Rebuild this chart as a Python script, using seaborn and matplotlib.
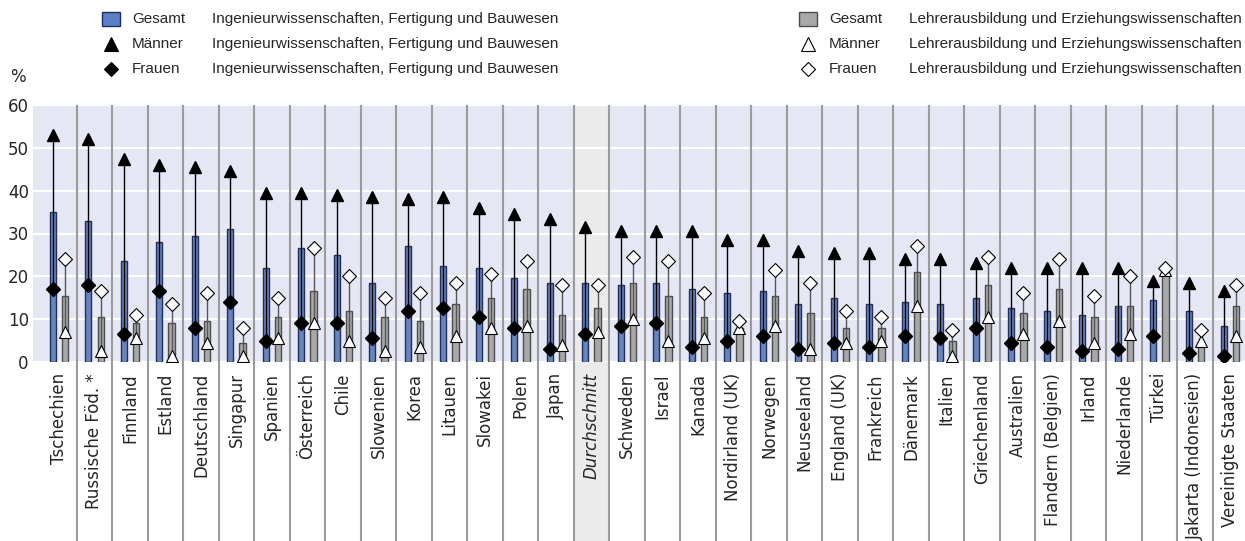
import numpy as np
import pandas as pd
import matplotlib
matplotlib.use("Agg")
import matplotlib.pyplot as plt
import seaborn as sns
from matplotlib.transforms import blended_transform_factory
from matplotlib.patches import Rectangle

# ==========================================
# DATEN
# ==========================================
laender = ["Tschechien", "Russische Föd. *", "Finnland", "Estland", "Deutschland",
           "Singapur", "Spanien", "Österreich", "Chile", "Slowenien", "Korea",
           "Litauen", "Slowakei", "Polen", "Japan", "Durchschnitt", "Schweden",
           "Israel", "Kanada", "Nordirland (UK)", "Norwegen", "Neuseeland",
           "England (UK)", "Frankreich", "Dänemark", "Italien", "Griechenland",
           "Australien", "Flandern (Belgien)", "Irland", "Niederlande", "Türkei",
           "Jakarta (Indonesien)", "Vereinigte Staaten"]

ing_gesamt = [35, 33, 23.5, 28, 29.5, 31, 22, 26.5, 25, 18.5, 27, 22.5, 22, 19.5, 18.5,
              18.5, 18, 18.5, 17, 16, 16.5, 13.5, 15, 13.5, 14, 13.5, 15, 12.5, 12, 11,
              13, 14.5, 12, 8.5]
ing_maenner = [53, 52, 47.5, 46, 45.5, 44.5, 39.5, 39.5, 39, 38.5, 38, 38.5, 36, 34.5, 33.5,
               31.5, 30.5, 30.5, 30.5, 28.5, 28.5, 26, 25.5, 25.5, 24, 24, 23, 22, 22, 22,
               22, 19, 18.5, 16.5]
ing_frauen = [17, 18, 6.5, 16.5, 8, 14, 5, 9, 9, 5.5, 12, 12.5, 10.5, 8, 3,
              6.5, 8.5, 9, 3.5, 5, 6, 3, 4.5, 3.5, 6, 5.5, 8, 4.5, 3.5, 2.5,
              3, 6, 2, 1.5]

lehr_gesamt = [15.5, 10.5, 9, 9, 9.5, 4.5, 10.5, 16.5, 12, 10.5, 9.5, 13.5, 15, 17, 11,
               12.5, 18.5, 15.5, 10.5, 8, 15.5, 11.5, 8, 8, 21, 5, 18, 11.5, 17, 10.5,
               13, 20.5, 4, 13]
lehr_maenner = [7, 2.5, 5.5, 1.5, 4.5, 1.5, 5.5, 9, 5, 2.5, 3.5, 6, 8, 8.5, 4,
                7, 10, 5, 5.5, 8, 8.5, 3, 4.5, 5, 13, 1.5, 10.5, 6.5, 9.5, 4.5,
                6.5, 21.5, 5, 6]
lehr_frauen = [24, 16.5, 11, 13.5, 16, 8, 15, 26.5, 20, 15, 16, 18.5, 20.5, 23.5, 18,
               18, 24.5, 23.5, 16, 9.5, 21.5, 18.5, 12, 10.5, 27, 7.5, 24.5, 16, 24, 15.5,
               20, 22, 7.5, 18]

BLAU = "#5b7fc9"
BLAU_RAND = "#1d2f5c"
GRAU = "#a8a8a8"
GRAU_RAND = "#4d4d4d"

n = len(laender)
df = pd.DataFrame({
    "Land": laender * 2,
    "Bereich": ["Ing"] * n + ["Lehr"] * n,
    "Wert": ing_gesamt + lehr_gesamt,
})

sns.set_style("darkgrid", {"axes.facecolor": "#e6e7f5", "grid.color": "white"})
plt.rcParams["font.family"] = ["DejaVu Sans"]

fig = plt.figure(figsize=(12.45, 5.41), dpi=100)
ax = fig.add_axes([33 / 1245, 179 / 541, 1212 / 1245, 257 / 541])

sns.barplot(data=df, x="Land", y="Wert", hue="Bereich",
            palette={"Ing": BLAU, "Lehr": GRAU}, width=0.68, gap=0.5,
            linewidth=1, legend=False, ax=ax, zorder=2)
for cont, rand in zip(ax.containers, [BLAU_RAND, GRAU_RAND]):
    for b in cont:
        b.set_edgecolor(rand)

pos = np.arange(n)
x_ing = pos - 0.17
x_lehr = pos + 0.17

# Verbindungslinien Männer/Frauen
ax.vlines(x_ing, np.minimum(ing_maenner, ing_frauen), np.maximum(ing_maenner, ing_frauen),
          color="black", lw=1, zorder=3)
ax.vlines(x_lehr, np.minimum(lehr_maenner, lehr_frauen), np.maximum(lehr_maenner, lehr_frauen),
          color="#555555", lw=1, zorder=3)

ax.plot(x_ing, ing_maenner, ls="none", marker="^", ms=9, color="black", zorder=4)
ax.plot(x_ing, ing_frauen, ls="none", marker="D", ms=7, color="black", zorder=4)
ax.plot(x_lehr, lehr_maenner, ls="none", marker="^", ms=9, mfc="white", mec="black", mew=0.8, zorder=5)
ax.plot(x_lehr, lehr_frauen, ls="none", marker="D", ms=7, mfc="white", mec="black", mew=0.8, zorder=5)

# Trennlinien und Durchschnitt-Spalte
trans = blended_transform_factory(ax.transData, ax.transAxes)
unten = -179 / 257
ax.vlines(pos[:-1] + 0.5, unten, 1, transform=trans, colors="#9b9b9b", lw=1.5,
          clip_on=False, zorder=1)
i_avg = laender.index("Durchschnitt")
ax.add_patch(Rectangle((i_avg - 0.5, unten), 1, 1 - unten, transform=trans,
                       facecolor="#ebebeb", edgecolor="none", clip_on=False, zorder=0.2))

ax.set_xlim(-0.732, 33.41)
ax.set_ylim(0, 60)
ax.set_yticks(range(0, 61, 10))
ax.xaxis.grid(False)
ax.yaxis.grid(True, color="white", lw=1.5)
ax.set_axisbelow(True)
ax.set_xlabel("")
ax.set_ylabel("")
ax.set_xticks(pos)
ax.set_xticklabels(laender, rotation=90, va="top", ha="center", fontsize=12)
ax.get_xticklabels()[i_avg].set_style("italic")
ax.tick_params(axis="x", length=0, pad=8)
ax.tick_params(axis="y", length=0, pad=3, labelsize=12)
for s in ax.spines.values():
    s.set_visible(False)

fig.text(10 / 1245, 1 - 77 / 541, "%", fontsize=12, va="center")

# Legende
lax = fig.add_axes([0, 0, 1, 1], facecolor="none")
lax.set_xlim(0, 1245)
lax.set_ylim(541, 0)
lax.axis("off")
zeilen = [19, 44, 69]
for x0, feld, farbe, rand, mfc in [
        (111, "Ingenieurwissenschaften, Fertigung und Bauwesen", BLAU, BLAU_RAND, "black"),
        (808, "Lehrerausbildung und Erziehungswissenschaften", GRAU, GRAU_RAND, "white")]:
    lax.add_patch(Rectangle((x0 - 9, zeilen[0] - 7), 18, 14, facecolor=farbe, edgecolor=rand, lw=1))
    lax.plot(x0, zeilen[1], marker="^", ms=10, mfc=mfc, mec="black", mew=0.8)
    lax.plot(x0, zeilen[2], marker="D", ms=7.5, mfc=mfc, mec="black", mew=0.8)
    for y, wer in zip(zeilen, ["Gesamt", "Männer", "Frauen"]):
        lax.text(x0 + 21, y, wer, fontsize=11, va="center", family="Liberation Sans")
        lax.text(x0 + 101, y, feld, fontsize=11, va="center", family="Liberation Sans")

fig.savefig("out.png", dpi=100)
